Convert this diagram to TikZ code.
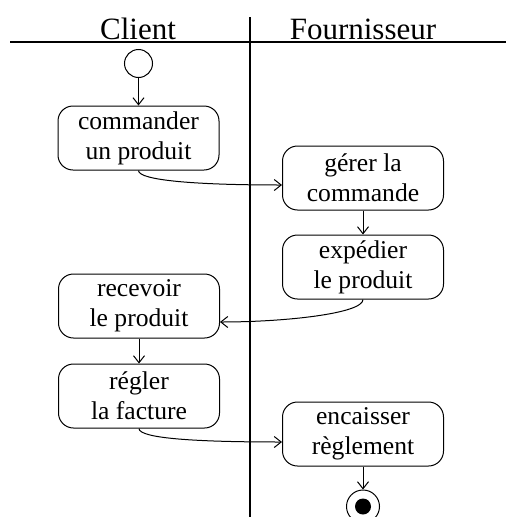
\documentclass[tikz,border=0pt]{standalone}
\usepackage{fontspec}
\setmainfont{Liberation Serif}
\usetikzlibrary{positioning,arrows.meta}

\begin{document}
\begin{tikzpicture}[x=1pt,y=1pt,
	activite/.style={draw,line width=1pt,rounded corners=15pt,minimum width=161pt,minimum height=64pt,
		inner sep=0pt,align=center,font=\fontsize{25.6}{30}\selectfont},
	couloir/.style={font=\fontsize{31}{36}\selectfont},
	fleche/.style={line width=1pt,-{Straight Barb[length=7pt,width=11pt]}}]
	\useasboundingbox (0,0) rectangle (506,-517);
	% couloirs
	\draw[line width=2pt] (10,-42) -- (506,-42);
	\draw[line width=2pt] (250,-17) -- (250,-517);
	\node[couloir] (client) at (138,-29) {Client};
	\node[couloir] (fournisseur) at (363,-29) {Fournisseur};
	% etats
	\node[circle,draw,line width=1pt,minimum size=28pt,inner sep=0pt] (debut) at (138.5,-63.5) {};
	\node[activite] (commander) at (138.5,-138) {commander\\un produit};
	\node[activite] (gerer) at (363,-178) {gérer la\\commande};
	\node[activite,below=24pt of gerer] (expedier) {expédier\\le produit};
	\node[activite] (recevoir) at (139,-306) {recevoir\\le produit};
	\node[activite,below=25pt of recevoir] (regler) {régler\\la facture};
	\node[activite] (encaisser) at (363,-434) {encaisser\\règlement};
	\node[circle,draw,line width=1pt,minimum size=33pt,inner sep=0pt] (fin) at (363,-506.5) {};
	\node[circle,fill,minimum size=16pt,inner sep=0pt] (finpoint) at (fin) {};
	% transitions
	\draw[fleche] (debut) -- (commander);
	\draw[fleche] (commander.south) .. controls +(0,-10) and +(-85,0) .. ([yshift=-7pt]gerer.west);
	\draw[fleche] (gerer) -- (expedier);
	\draw[fleche] (expedier.south) .. controls +(0,-14) and +(65,0) .. ([yshift=-16pt]recevoir.east);
	\draw[fleche] (recevoir) -- (regler);
	\draw[fleche] (regler.south) .. controls +(0,-10) and +(-85,0) .. ([yshift=-8pt]encaisser.west);
	\draw[fleche] (encaisser) -- (fin);
\end{tikzpicture}
\end{document}
